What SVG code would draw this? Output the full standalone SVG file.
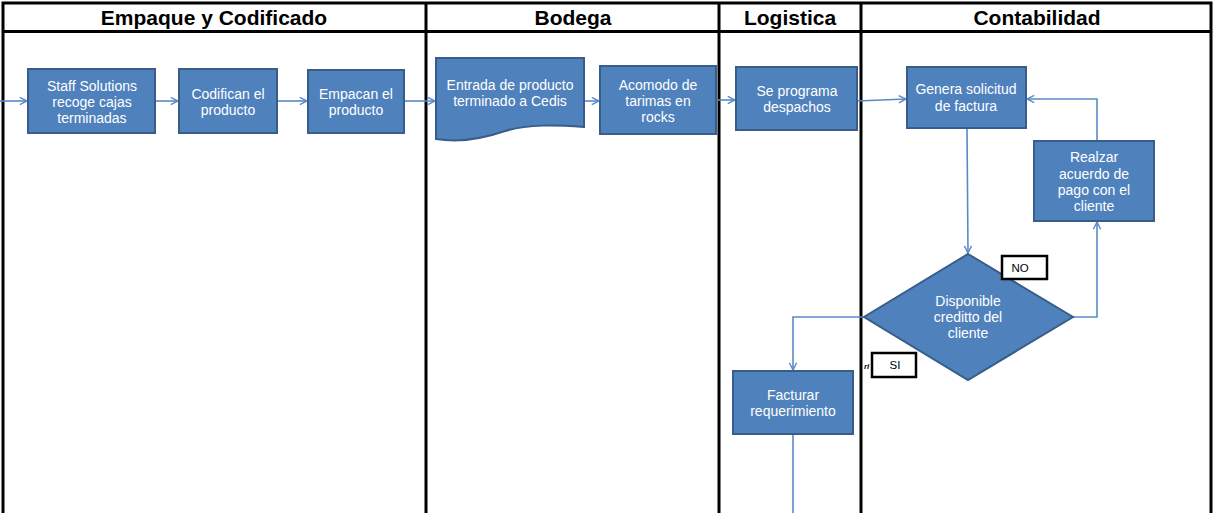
<svg xmlns="http://www.w3.org/2000/svg" width="1213" height="513" viewBox="0 0 1213 513">
  <style>
    .lane { fill: none; stroke: #000; stroke-width: 3; }
    .head { font-family: "Liberation Sans", Arial, sans-serif; font-weight: bold; font-size: 21px; fill: #000; text-anchor: middle; }
    .box { fill: #4F81BD; stroke: #385D8A; stroke-width: 2; }
    .txt { font-family: "Liberation Sans", Arial, sans-serif; font-size: 14px; fill: #fff; text-anchor: middle; }
    .lbl { fill: #fff; stroke: #000; stroke-width: 2.5; }
    .lbltxt { font-family: "Liberation Sans", Arial, sans-serif; font-size: 11.5px; fill: #000; text-anchor: middle; }
    .edge { fill: none; stroke: #5A8AC6; stroke-width: 1.6; }
  </style>
  <defs>
    <marker id="arrow" viewBox="0 0 10 10" refX="9" refY="5" markerWidth="9" markerHeight="9" markerUnits="userSpaceOnUse" orient="auto">
      <path d="M1,1 L9,5 L1,9" fill="none" stroke="#5A8AC6" stroke-width="1.6"/>
    </marker>
  </defs>
  <rect width="1213" height="513" fill="#fff"/>

  <!-- swimlane frame -->
  <g id="lanes">
    <path class="lane" d="M3,520 V3 H1211 V520"/>
    <line class="lane" x1="3" y1="31.5" x2="1211" y2="31.5"/>
    <line class="lane" x1="426" y1="3" x2="426" y2="520"/>
    <line class="lane" x1="719" y1="3" x2="719" y2="520"/>
    <line class="lane" x1="861" y1="3" x2="861" y2="520"/>
    <text class="head" x="214" y="25">Empaque y Codificado</text>
    <text class="head" x="573" y="25">Bodega</text>
    <text class="head" x="790" y="25">Logistica</text>
    <text class="head" x="1037" y="25">Contabilidad</text>
  </g>

  <!-- connectors -->
  <g id="connectors">
    <path class="edge" d="M0,101 H27" marker-end="url(#arrow)"/>
    <path class="edge" d="M155,101 H178" marker-end="url(#arrow)"/>
    <path class="edge" d="M277,101 H307" marker-end="url(#arrow)"/>
    <path class="edge" d="M404,101 H435" marker-end="url(#arrow)"/>
    <path class="edge" d="M584,101 H599" marker-end="url(#arrow)"/>
    <path class="edge" d="M716,100 H735" marker-end="url(#arrow)"/>
    <path class="edge" d="M857,101 L906,99" marker-end="url(#arrow)"/>
    <path class="edge" d="M967,128 L968,253" marker-end="url(#arrow)"/>
    <path class="edge" d="M1073,317 H1097 V222" marker-end="url(#arrow)"/>
    <path class="edge" d="M1097,141 V99 H1027" marker-end="url(#arrow)"/>
    <path class="edge" d="M864,317 H793 V370" marker-end="url(#arrow)"/>
    <path class="edge" d="M793,434 V513"/>
  </g>

  <g id="staff">
    <rect class="box" x="28" y="69" width="127" height="64"/>
    <text class="txt" x="92" y="91">Staff Solutions</text>
    <text class="txt" x="92" y="107">recoge cajas</text>
    <text class="txt" x="92" y="123">terminadas</text>
  </g>
  <g id="codifican">
    <rect class="box" x="179" y="69" width="98" height="64"/>
    <text class="txt" x="228" y="99">Codifican  el</text>
    <text class="txt" x="228" y="115">producto</text>
  </g>
  <g id="empacan">
    <rect class="box" x="308" y="70" width="96" height="63"/>
    <text class="txt" x="356" y="99">Empacan el</text>
    <text class="txt" x="356" y="115">producto</text>
  </g>
  <g id="entrada">
    <path class="box" d="M436,58 H584 V127 C556,125 528,124 505,131 C482,139 460,143 436,139 Z"/>
    <text class="txt" x="510" y="90">Entrada de producto</text>
    <text class="txt" x="510" y="106">terminado a Cedis</text>
  </g>
  <g id="acomodo">
    <rect class="box" x="600" y="66" width="116" height="68"/>
    <text class="txt" x="658" y="90">Acomodo de</text>
    <text class="txt" x="658" y="106">tarimas en</text>
    <text class="txt" x="658" y="122">rocks</text>
  </g>
  <g id="despachos">
    <rect class="box" x="736" y="67" width="121" height="63"/>
    <text class="txt" x="797" y="96">Se programa</text>
    <text class="txt" x="797" y="112">despachos</text>
  </g>
  <g id="solicitud">
    <rect class="box" x="907" y="67" width="119" height="61"/>
    <text class="txt" x="966" y="94">Genera solicitud</text>
    <text class="txt" x="966" y="111">de factura</text>
  </g>
  <g id="acuerdo">
    <rect class="box" x="1034" y="141" width="120" height="80"/>
    <text class="txt" x="1094" y="162">Realzar</text>
    <text class="txt" x="1094" y="179">acuerdo de</text>
    <text class="txt" x="1094" y="195">pago con el</text>
    <text class="txt" x="1094" y="211">cliente</text>
  </g>
  <g id="credito">
    <path class="box" d="M968,254 L1073,317 L968,380 L864,317 Z"/>
    <text class="txt" x="968" y="306">Disponible</text>
    <text class="txt" x="968" y="322">creditto del</text>
    <text class="txt" x="968" y="338">cliente</text>
  </g>
  <g id="facturar">
    <rect class="box" x="733" y="371" width="120" height="63"/>
    <text class="txt" x="793" y="400">Facturar</text>
    <text class="txt" x="793" y="416">requerimiento</text>
  </g>
  <g id="label-no">
    <rect class="lbl" x="1002" y="256" width="45" height="23"/>
    <text class="lbltxt" x="1020" y="272">NO</text>
  </g>
  <g id="label-si">
    <rect class="lbl" x="872" y="353" width="44" height="24"/>
    <text class="lbltxt" x="895" y="369">SI</text>
    <text x="864" y="369" font-family="Liberation Sans, Arial, sans-serif" font-size="8px" font-style="italic" font-weight="bold" fill="#000">ri</text>
  </g>
</svg>
